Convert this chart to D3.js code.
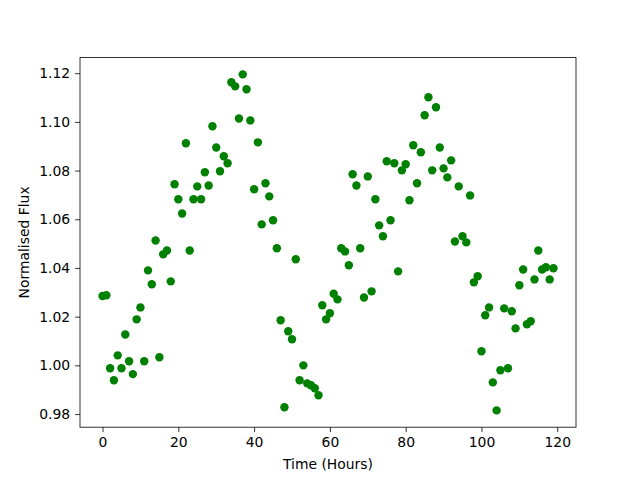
<!DOCTYPE html>
<html>
<head>
<meta charset="utf-8">
<script src="https://cdn.jsdelivr.net/npm/d3@7"></script>
<style>
    body { margin: 0; background: #fff; }
    text { font-family: "DejaVu Sans", sans-serif; }
</style>
</head>
<body>
<div id="chart"></div>
<script>
// hours of observation, one point per hour
const hours = d3.range(0, 120);

// normalised flux
const flux = [
    1.0285, 1.0288, 0.9988, 0.9939, 1.0041, 0.9988, 1.0127, 1.0017, 0.9964, 1.0189,
    1.0238, 1.0017, 1.0390, 1.0333, 1.0513, 1.0033, 1.0456, 1.0472, 1.0345, 1.0744,
    1.0682, 1.0624, 1.0912, 1.0472, 1.0682, 1.0735, 1.0682, 1.0793, 1.0739, 1.0982,
    1.0895, 1.0797, 1.0859, 1.0830, 1.1163, 1.1146, 1.1014, 1.1195, 1.1134, 1.1006,
    1.0723, 1.0916, 1.0579, 1.0748, 1.0694, 1.0596, 1.0481, 1.0185, 0.9828, 1.0140,
    1.0107, 1.0436, 0.9939, 1.0000, 0.9926, 0.9918, 0.9906, 0.9877, 1.0247, 1.0189,
    1.0214, 1.0294, 1.0271, 1.0481, 1.0468, 1.0411, 1.0785, 1.0739, 1.0481, 1.0279,
    1.0776, 1.0304, 1.0682, 1.0575, 1.0530, 1.0838, 1.0596, 1.0830, 1.0386, 1.0801,
    1.0826, 1.0678, 1.0904, 1.0748, 1.0875, 1.1027, 1.1101, 1.0801, 1.1060, 1.0895,
    1.0809, 1.0772, 1.0842, 1.0509, 1.0735, 1.0530, 1.0505, 1.0698, 1.0341, 1.0366,
    1.0058, 1.0206, 1.0238, 0.9930, 0.9815, 0.9980, 1.0234, 0.9988, 1.0222, 1.0152,
    1.0329, 1.0394, 1.0169, 1.0181, 1.0353, 1.0472, 1.0394, 1.0403, 1.0353, 1.0399
];

const xTicks = [0, 20, 40, 60, 80, 100, 120];
const yTicks = [0.98, 1.00, 1.02, 1.04, 1.06, 1.08, 1.10, 1.12];

const data = hours.map((h, i) => ({ hour: h, value: flux[i] }));

// matplotlib default figure layout
const margin = { top: 57.6, right: 64, bottom: 52.8, left: 80 };
const width = 640 - margin.left - margin.right;
const height = 480 - margin.top - margin.bottom;

const svg = d3.select('#chart')
    .append('svg')
    .attr('width', 640)
    .attr('height', 480)
    .append('g')
    .attr('transform', `translate(${margin.left},${margin.top})`);

// 5% padding around the data, like matplotlib autoscale
const xExt = d3.extent(hours);
const xPad = (xExt[1] - xExt[0]) * 0.05;
const xScale = d3.scaleLinear()
    .domain([xExt[0] - xPad, xExt[1] + xPad])
    .range([0, width]);

const yExt = d3.extent(flux);
const yPad = (yExt[1] - yExt[0]) * 0.05;
const yScale = d3.scaleLinear()
    .domain([yExt[0] - yPad, yExt[1] + yPad])
    .range([height, 0]);

// points
svg.selectAll('circle')
    .data(data)
    .join('circle')
    .attr('cx', d => xScale(d.hour))
    .attr('cy', d => yScale(d.value))
    .attr('r', 4.2)
    .attr('fill', '#008000');

// axes
const xAxis = svg.append('g')
    .attr('transform', `translate(0, ${height})`)
    .call(d3.axisBottom(xScale).tickValues(xTicks).tickSize(4.9).tickPadding(4.9).tickFormat(d3.format('d')));

const yAxis = svg.append('g')
    .call(d3.axisLeft(yScale).tickValues(yTicks).tickSize(4.9).tickPadding(4.9).tickFormat(d3.format('.2f')));

[xAxis, yAxis].forEach(ax => {
    ax.select('.domain').remove();
    ax.selectAll('line').attr('stroke', '#000').attr('stroke-width', 0.8);
    ax.selectAll('text')
        .attr('fill', '#000')
        .attr('font-size', '13.9px')
        .attr('font-family', '"DejaVu Sans", sans-serif');
});

// frame
svg.append('rect')
    .attr('x', 0)
    .attr('y', 0)
    .attr('width', width)
    .attr('height', height)
    .attr('fill', 'none')
    .attr('stroke', '#000')
    .attr('stroke-width', 0.8);

// labels
svg.append('text')
    .attr('x', width / 2)
    .attr('y', height + 42)
    .attr('text-anchor', 'middle')
    .attr('font-size', '13.9px')
    .text('Time (Hours)');

svg.append('text')
    .attr('transform', `translate(${-51}, ${height / 2}) rotate(-90)`)
    .attr('text-anchor', 'middle')
    .attr('font-size', '13.9px')
    .text('Normalised Flux');
</script>
</body>
</html>
